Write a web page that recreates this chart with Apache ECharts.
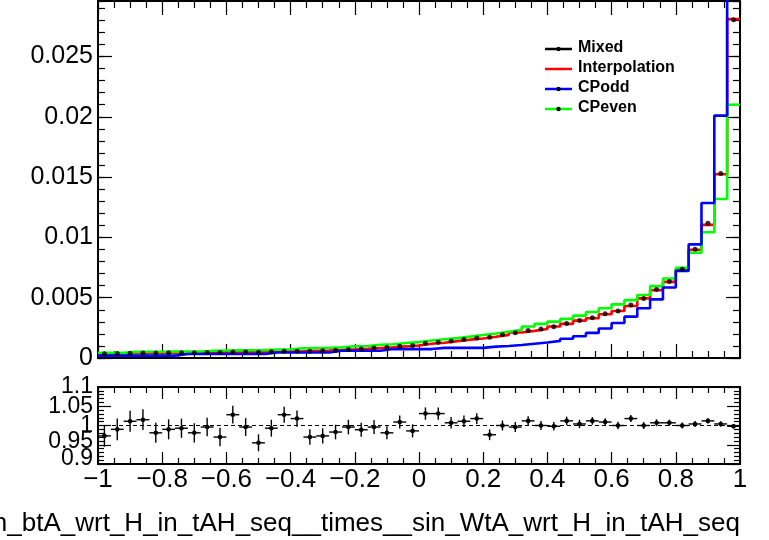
<!DOCTYPE html>
<html><head><meta charset="utf-8">
<script src="https://cdn.jsdelivr.net/npm/echarts@6/dist/echarts.min.js"></script>
<style>html,body{margin:0;padding:0;background:#fff}#c{width:769px;height:540px}</style>
</head><body><div id="c"></div>
<script>
// ---- data ----
const binLow = [-1,-0.96,-0.92,-0.88,-0.84,-0.8,-0.76,-0.72,-0.68,-0.64,-0.6,-0.56,-0.52,-0.48,-0.44,-0.4,-0.36,-0.32,-0.28,-0.24,-0.2,-0.16,-0.12,-0.08,-0.04,0,0.04,0.08,0.12,0.16,0.2,0.24,0.28,0.32,0.36,0.4,0.44,0.48,0.52,0.56,0.6,0.64,0.68,0.72,0.76,0.8,0.84,0.88,0.92,0.96];
const xMax = 1;
const mixed = [0.00035,0.00037,0.00040,0.00042,0.00041,0.00043,0.00044,0.00044,0.00046,0.00046,0.00049,0.00049,0.00048,0.00052,0.00056,0.00057,0.00057,0.00060,0.00065,0.00071,0.00075,0.00083,0.00087,0.00097,0.00103,0.00122,0.00131,0.00141,0.00154,0.00165,0.00172,0.00192,0.00210,0.00228,0.00241,0.00260,0.00286,0.00311,0.00334,0.00366,0.00390,0.00439,0.00494,0.00567,0.00635,0.00735,0.00902,0.01117,0.01530,0.02804];
const interpolation = [0.00036,0.00037,0.00040,0.00041,0.00042,0.00043,0.00044,0.00045,0.00046,0.00047,0.00048,0.00049,0.00050,0.00052,0.00054,0.00056,0.00059,0.00062,0.00066,0.00071,0.00076,0.00083,0.00089,0.00096,0.00104,0.00118,0.00127,0.00140,0.00152,0.00162,0.00176,0.00192,0.00211,0.00225,0.00241,0.00261,0.00283,0.00310,0.00330,0.00363,0.00390,0.00431,0.00494,0.00563,0.00631,0.00735,0.00898,0.01104,0.01524,0.02810];
const cpOdd = [0.00020,0.00020,0.00020,0.00020,0.00020,0.00020,0.00033,0.00033,0.00033,0.00033,0.00033,0.00033,0.00033,0.00046,0.00046,0.00046,0.00046,0.00046,0.00060,0.00060,0.00060,0.00060,0.00074,0.00074,0.00074,0.00074,0.00084,0.00084,0.00084,0.00084,0.00094,0.00100,0.00108,0.00118,0.00128,0.00142,0.00160,0.00180,0.00208,0.00245,0.00290,0.00343,0.00412,0.00486,0.00585,0.00722,0.00942,0.01285,0.02010,0.03600];
const cpEven = [0.00044,0.00044,0.00051,0.00052,0.00052,0.00053,0.00053,0.00054,0.00060,0.00062,0.00063,0.00064,0.00065,0.00070,0.00072,0.00080,0.00083,0.00085,0.00088,0.00097,0.00100,0.00110,0.00114,0.00124,0.00132,0.00145,0.00155,0.00165,0.00177,0.00190,0.00203,0.00218,0.00233,0.00261,0.00283,0.00302,0.00324,0.00351,0.00381,0.00412,0.00445,0.00480,0.00522,0.00596,0.00659,0.00747,0.00873,0.01043,0.01318,0.02100];
const ratio = [0.973,0.990,1.011,1.015,0.981,0.990,0.993,0.981,0.996,0.970,1.028,0.996,0.955,0.993,1.028,1.018,0.970,0.973,0.983,0.996,0.989,0.996,0.981,1.009,0.986,1.031,1.031,1.007,1.011,1.018,0.976,1.000,0.996,1.012,1.000,0.998,1.012,1.004,1.012,1.009,1.000,1.018,1.000,1.007,1.007,1.000,1.004,1.012,1.004,0.998];
const ratioErr = [0.028,0.028,0.027,0.027,0.026,0.026,0.025,0.025,0.024,0.024,0.023,0.023,0.022,0.022,0.021,0.021,0.020,0.020,0.019,0.019,0.018,0.018,0.017,0.017,0.017,0.016,0.016,0.015,0.015,0.014,0.014,0.013,0.013,0.012,0.012,0.011,0.011,0.011,0.010,0.010,0.010,0.009,0.009,0.009,0.008,0.008,0.008,0.007,0.007,0.006];
const legendNames = ['Mixed','Interpolation','CPodd','CPeven'];
const xTitle = 'sin_btA_wrt_H_in_tAH_seq__times__sin_WtA_wrt_H_in_tAH_seq';

// ---- derived ----
const binHigh = binLow.map((x, i) => i + 1 < binLow.length ? binLow[i + 1] : xMax);
const binCenter = binLow.map((x, i) => (x + binHigh[i]) / 2);
const stepData = vals => binLow.map((x, i) => [x, vals[i]]).concat([[xMax, vals[vals.length - 1]]]);

const FONT = '"Liberation Sans", Arial, Helvetica, sans-serif';
const tickLS = {color: '#000', width: 1.2};
const fmtNum = v => {
  const r = Math.round(v * 100000) / 100000;
  if (r === 0) return '0';
  return (r < 0 ? '\u2212' : '') + String(Math.abs(r));
};

function xAx(grid, pos, major, minor, labels) {
  return {
    gridIndex: grid, type: 'value', min: -1, max: 1, interval: 0.2, position: pos,
    axisLine: {show: false, onZero: false},
    axisTick: {show: true, inside: true, length: major, lineStyle: tickLS},
    minorTick: {show: true, splitNumber: 4, length: minor, lineStyle: tickLS},
    splitLine: {show: false}, minorSplitLine: {show: false},
    axisLabel: labels ? {show: true, margin: 3, fontSize: 26, fontFamily: FONT, color: '#000', formatter: fmtNum} : {show: false}
  };
}
function yAx(grid, pos, min, max, interval, major, minorSplit, minorLen, labelOpt) {
  const o = {
    gridIndex: grid, type: 'value', min: min, max: max, interval: interval, position: pos,
    axisLine: {show: false, onZero: false},
    axisTick: major > 0 ? {show: true, inside: true, length: major, lineStyle: tickLS} : {show: false},
    splitLine: {show: false}, minorSplitLine: {show: false},
    axisLabel: labelOpt ? Object.assign({show: true, margin: 5, fontFamily: FONT, color: '#000', hideOverlap: false}, labelOpt) : {show: false}
  };
  if (minorSplit) o.minorTick = {show: true, splitNumber: minorSplit, length: minorLen, lineStyle: tickLS};
  return o;
}

// ratio-panel label helpers (ROOT draws the lower labels a little higher)
const ratioRich = {
  up6: {fontSize: 23, fontFamily: FONT, color: '#000', padding: [0, 0, 6, 0]},
  up12: {fontSize: 23, fontFamily: FONT, color: '#000', padding: [0, 0, 11, 0]},
  n: {fontSize: 23, fontFamily: FONT, color: '#000'}
};
const fmtRatioInner = v => {
  const s = fmtNum(v);
  return Math.abs(v - 0.95) < 1e-6 ? '{up6|' + s + '}' : '{n|' + s + '}';
};
const fmtRatioOuter = v => {
  if (Math.abs(v - 1) < 1e-6) return '';
  const s = fmtNum(v);
  return Math.abs(v - 0.9) < 1e-6 ? '{up12|' + s + '}' : '{n|' + s + '}';
};

const chart = echarts.init(document.getElementById('c'), null, {renderer: 'canvas'});

const legendY = [49, 69, 89, 109];
const legendColors = ['#000000', '#ff0000', '#0000ff', '#00ff00'];
const legendMarker = [true, false, true, true];
const graphics = [];
legendNames.forEach((n, i) => {
  graphics.push({type: 'line', shape: {x1: 545, y1: legendY[i], x2: 572, y2: legendY[i]}, style: {stroke: legendColors[i], lineWidth: 2.5}, z: 50});
  if (legendMarker[i]) graphics.push({type: 'circle', shape: {cx: 558.5, cy: legendY[i], r: 2.2}, style: {fill: '#000'}, z: 51});
  graphics.push({type: 'text', x: 578, y: legendY[i] - 1.5, style: {text: n, font: 'bold 16px ' + FONT, fill: '#000', align: 'left', verticalAlign: 'middle'}, z: 50});
});
graphics.push({type: 'text', x: 740, y: 524, style: {text: xTitle, font: '26px ' + FONT, fill: '#000', align: 'right', verticalAlign: 'middle'}, z: 50});

const option = {
  animation: false,
  backgroundColor: '#fff',
  grid: [
    {left: 98, top: 1, width: 642, height: 357, show: true, borderColor: '#000', borderWidth: 2, backgroundColor: 'transparent'},
    {left: 98, top: 387, width: 642, height: 77, show: true, borderColor: '#000', borderWidth: 2, backgroundColor: 'transparent'}
  ],
  xAxis: [
    xAx(0, 'bottom', 14, 7, false),
    xAx(0, 'top', 14, 7, false),
    xAx(1, 'bottom', 12, 6, true),
    xAx(1, 'top', 12, 6, false)
  ],
  yAxis: [
    yAx(0, 'left', 0, 0.0296, 0.005, 14, 0, 0, {fontSize: 25, showMaxLabel: false, showMinLabel: true, formatter: fmtNum}),
    yAx(0, 'left', 0, 0.0296, 0.001, 7, 0, 0, null),
    yAx(0, 'right', 0, 0.0296, 0.005, 14, 0, 0, null),
    yAx(0, 'right', 0, 0.0296, 0.001, 7, 0, 0, null),
    yAx(1, 'left', 0.9, 1.1, 0.05, 13, 5, 6, {showMaxLabel: false, showMinLabel: false, formatter: fmtRatioInner, rich: ratioRich}),
    yAx(1, 'right', 0.9, 1.1, 0.05, 13, 5, 6, null),
    yAx(1, 'left', 0.9, 1.1, 0.1, 0, 0, 0, {showMaxLabel: true, showMinLabel: true, formatter: fmtRatioOuter, rich: ratioRich})
  ],
  graphic: graphics,
  series: [
    {name: 'Interpolation', type: 'line', xAxisIndex: 0, yAxisIndex: 0, step: 'end', showSymbol: false, symbol: 'none',
     lineStyle: {color: '#ff0000', width: 2.6}, data: stepData(interpolation), z: 2, clip: true},
    {name: 'CPeven', type: 'line', xAxisIndex: 0, yAxisIndex: 0, step: 'end', showSymbol: false, symbol: 'none',
     lineStyle: {color: '#00ff00', width: 2.6}, data: stepData(cpEven), z: 3, clip: true},
    {name: 'CPodd', type: 'line', xAxisIndex: 0, yAxisIndex: 0, step: 'end', showSymbol: false, symbol: 'none',
     lineStyle: {color: '#0000ff', width: 2.6}, data: stepData(cpOdd), z: 4, clip: true},
    {name: 'Mixed', type: 'scatter', xAxisIndex: 0, yAxisIndex: 0, symbol: 'circle', symbolSize: 5,
     itemStyle: {color: '#000'}, data: binCenter.map((x, i) => [x, mixed[i]]), z: 5},
    {name: 'Ratio', type: 'custom', xAxisIndex: 2, yAxisIndex: 4, z: 5, clip: true,
     data: binCenter.map((x, i) => [x, ratio[i], ratioErr[i], binLow[i], binHigh[i]]),
     renderItem: function (params, api) {
       const x = api.value(0), y = api.value(1), e = api.value(2), lo = api.value(3), hi = api.value(4);
       const c = api.coord([x, y]);
       const pl = api.coord([lo, y]), pr = api.coord([hi, y]);
       const pt = api.coord([x, y + e]), pb = api.coord([x, y - e]);
       const st = {stroke: '#000', lineWidth: 1.4};
       return {type: 'group', children: [
         {type: 'line', shape: {x1: pl[0], y1: c[1], x2: pr[0], y2: c[1]}, style: st},
         {type: 'line', shape: {x1: c[0], y1: pt[1], x2: c[0], y2: pb[1]}, style: st},
         {type: 'circle', shape: {cx: c[0], cy: c[1], r: 2.3}, style: {fill: '#000'}}
       ]};
     },
     markLine: {silent: true, symbol: ['none', 'none'], label: {show: false},
       lineStyle: {color: '#000', type: [4, 3], width: 1.2}, data: [{yAxis: 1}]}
    }
  ]
};
chart.setOption(option);
</script>
</body></html>
